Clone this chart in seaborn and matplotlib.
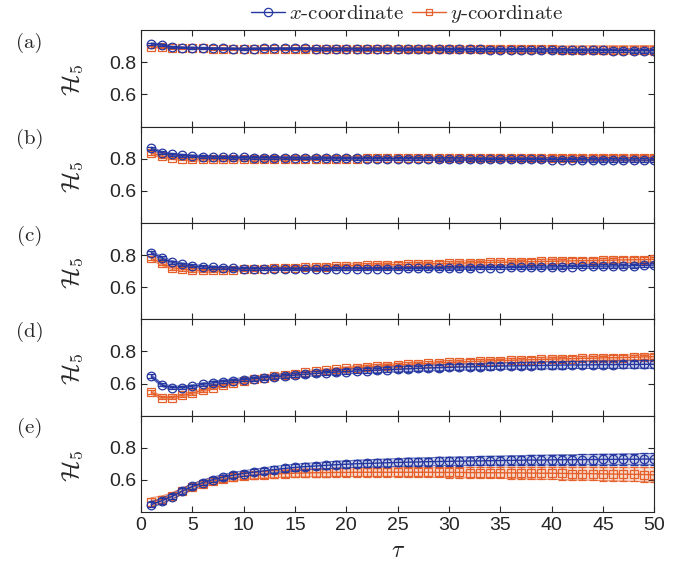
import numpy as np
import pandas as pd
import matplotlib
matplotlib.use("Agg")
import matplotlib.pyplot as plt
from matplotlib.lines import Line2D
import seaborn as sns

tau = list(range(1, 51))
panel_labels = ["(a)", "(b)", "(c)", "(d)", "(e)"]
series_names = ["$x$-coordinate", "$y$-coordinate"]

a_x = [0.915,0.910,0.895,0.892,0.890,0.888,0.887,0.886,0.885,0.884,
       0.885,0.886,0.886,0.886,0.886,0.886,0.885,0.884,0.884,0.884,
       0.883,0.883,0.883,0.883,0.883,0.882,0.882,0.882,0.882,0.881,
       0.881,0.880,0.880,0.879,0.879,0.878,0.878,0.877,0.877,0.876,
       0.876,0.875,0.875,0.874,0.874,0.873,0.873,0.872,0.872,0.872]
a_y = [0.897,0.893,0.890,0.888,0.887,0.886,0.885,0.884,0.883,0.883,
       0.883,0.883,0.883,0.883,0.883,0.883,0.882,0.882,0.882,0.882,
       0.882,0.882,0.882,0.882,0.882,0.882,0.882,0.882,0.882,0.882,
       0.881,0.881,0.881,0.881,0.881,0.880,0.880,0.880,0.880,0.880,
       0.879,0.879,0.879,0.879,0.878,0.878,0.878,0.877,0.877,0.876]
a_xe = [0.006,0.006,0.005,0.005,0.005,0.005,0.005,0.005,0.005,0.005,
        0.005,0.005,0.005,0.005,0.006,0.006,0.006,0.006,0.006,0.006,
        0.006,0.006,0.007,0.007,0.007,0.007,0.007,0.007,0.008,0.008,
        0.008,0.008,0.008,0.009,0.009,0.009,0.009,0.009,0.010,0.010,
        0.010,0.010,0.010,0.011,0.011,0.011,0.011,0.012,0.012,0.012]
a_ye = [0.006,0.006,0.006,0.006,0.006,0.006,0.006,0.006,0.007,0.007,
        0.007,0.008,0.008,0.009,0.009,0.010,0.010,0.011,0.011,0.012,
        0.012,0.013,0.013,0.014,0.014,0.015,0.015,0.016,0.016,0.017,
        0.017,0.018,0.018,0.019,0.019,0.020,0.020,0.021,0.021,0.022,
        0.022,0.023,0.023,0.024,0.024,0.025,0.025,0.026,0.027,0.028]

b_x = [0.865,0.838,0.826,0.820,0.816,0.813,0.811,0.810,0.809,0.808,
       0.807,0.806,0.806,0.805,0.805,0.804,0.804,0.803,0.803,0.802,
       0.802,0.801,0.801,0.800,0.800,0.800,0.799,0.799,0.798,0.798,
       0.798,0.797,0.797,0.796,0.796,0.796,0.795,0.795,0.795,0.794,
       0.794,0.794,0.793,0.793,0.793,0.792,0.792,0.792,0.791,0.791]
b_y = [0.835,0.815,0.806,0.801,0.798,0.797,0.796,0.796,0.797,0.797,
       0.798,0.798,0.799,0.799,0.800,0.800,0.800,0.801,0.801,0.801,
       0.801,0.802,0.802,0.802,0.802,0.802,0.803,0.803,0.803,0.803,
       0.803,0.803,0.804,0.804,0.804,0.804,0.804,0.805,0.805,0.805,
       0.805,0.805,0.806,0.806,0.806,0.806,0.806,0.807,0.807,0.807]
b_xe = [0.009,0.008,0.008,0.008,0.008,0.008,0.008,0.008,0.008,0.008,
        0.008,0.008,0.008,0.008,0.008,0.008,0.009,0.009,0.009,0.009,
        0.009,0.009,0.009,0.009,0.009,0.010,0.010,0.010,0.010,0.010,
        0.010,0.010,0.010,0.010,0.011,0.011,0.011,0.011,0.011,0.011,
        0.011,0.011,0.012,0.012,0.012,0.012,0.012,0.012,0.013,0.013]
b_ye = [0.012,0.011,0.011,0.011,0.011,0.011,0.011,0.011,0.011,0.011,
        0.011,0.011,0.011,0.011,0.011,0.011,0.011,0.012,0.012,0.012,
        0.012,0.012,0.012,0.012,0.012,0.012,0.013,0.013,0.013,0.013,
        0.013,0.013,0.013,0.014,0.014,0.014,0.014,0.014,0.014,0.015,
        0.015,0.015,0.015,0.015,0.016,0.016,0.016,0.016,0.016,0.017]

c_x = [0.815,0.782,0.756,0.742,0.733,0.727,0.723,0.720,0.718,0.716,
       0.715,0.714,0.713,0.713,0.713,0.713,0.713,0.713,0.714,0.714,
       0.714,0.715,0.715,0.716,0.716,0.717,0.717,0.718,0.718,0.719,
       0.720,0.720,0.721,0.722,0.722,0.723,0.724,0.725,0.725,0.726,
       0.727,0.728,0.729,0.730,0.731,0.732,0.733,0.734,0.736,0.738]
c_y = [0.782,0.748,0.722,0.712,0.706,0.705,0.706,0.708,0.710,0.712,
       0.714,0.716,0.718,0.720,0.722,0.724,0.726,0.728,0.730,0.732,
       0.734,0.736,0.738,0.739,0.741,0.742,0.744,0.745,0.747,0.748,
       0.750,0.751,0.752,0.754,0.755,0.756,0.758,0.759,0.760,0.761,
       0.763,0.764,0.765,0.766,0.767,0.768,0.770,0.771,0.772,0.774]
c_xe = [0.010,0.010,0.010,0.010,0.009,0.009,0.009,0.009,0.009,0.009,
        0.009,0.009,0.009,0.009,0.009,0.009,0.009,0.009,0.009,0.009,
        0.009,0.009,0.009,0.009,0.010,0.010,0.010,0.010,0.010,0.010,
        0.010,0.010,0.010,0.010,0.011,0.011,0.011,0.011,0.011,0.011,
        0.011,0.011,0.012,0.012,0.012,0.012,0.012,0.012,0.013,0.013]
c_ye = [0.013,0.012,0.012,0.012,0.011,0.011,0.011,0.011,0.011,0.011,
        0.011,0.011,0.011,0.011,0.012,0.012,0.012,0.012,0.012,0.012,
        0.012,0.012,0.012,0.013,0.013,0.013,0.013,0.013,0.013,0.013,
        0.013,0.014,0.014,0.014,0.014,0.014,0.014,0.014,0.015,0.015,
        0.015,0.015,0.015,0.015,0.015,0.016,0.016,0.016,0.016,0.016]

d_x = [0.646,0.592,0.575,0.575,0.583,0.595,0.605,0.612,0.619,0.625,
       0.631,0.637,0.643,0.648,0.653,0.658,0.663,0.667,0.671,0.675,
       0.678,0.681,0.684,0.687,0.690,0.692,0.695,0.697,0.699,0.701,
       0.703,0.704,0.706,0.707,0.709,0.710,0.711,0.712,0.713,0.714,
       0.715,0.716,0.716,0.717,0.718,0.718,0.719,0.719,0.720,0.720]
d_y = [0.547,0.512,0.512,0.526,0.540,0.558,0.575,0.590,0.603,0.615,
       0.626,0.636,0.645,0.654,0.662,0.669,0.676,0.682,0.688,0.694,
       0.699,0.704,0.708,0.712,0.716,0.720,0.723,0.726,0.729,0.732,
       0.734,0.737,0.739,0.741,0.743,0.745,0.747,0.749,0.750,0.752,
       0.754,0.755,0.757,0.758,0.760,0.761,0.762,0.764,0.766,0.768]
d_xe = [0.011,0.010,0.010,0.010,0.010,0.010,0.011,0.011,0.011,0.012,
        0.012,0.012,0.013,0.013,0.013,0.014,0.014,0.014,0.015,0.015,
        0.015,0.016,0.016,0.016,0.017,0.017,0.017,0.018,0.018,0.018,
        0.019,0.019,0.019,0.020,0.020,0.020,0.021,0.021,0.021,0.022,
        0.022,0.022,0.022,0.023,0.023,0.023,0.024,0.024,0.024,0.025]
d_ye = [0.011,0.010,0.010,0.010,0.010,0.010,0.010,0.010,0.010,0.010,
        0.010,0.010,0.010,0.011,0.011,0.011,0.011,0.011,0.011,0.011,
        0.011,0.012,0.012,0.012,0.012,0.012,0.012,0.012,0.012,0.013,
        0.013,0.013,0.013,0.013,0.013,0.013,0.013,0.014,0.014,0.014,
        0.014,0.014,0.014,0.014,0.014,0.015,0.015,0.015,0.015,0.015]

e_x = [0.447,0.470,0.497,0.530,0.560,0.583,0.602,0.617,0.630,0.640,
       0.649,0.657,0.665,0.672,0.678,0.683,0.687,0.691,0.695,0.698,
       0.701,0.703,0.705,0.707,0.709,0.711,0.712,0.714,0.715,0.716,
       0.717,0.718,0.719,0.720,0.721,0.722,0.723,0.724,0.724,0.725,
       0.726,0.726,0.727,0.727,0.728,0.728,0.729,0.729,0.730,0.730]
e_y = [0.465,0.478,0.500,0.530,0.556,0.576,0.593,0.605,0.616,0.624,
       0.630,0.634,0.638,0.640,0.642,0.644,0.645,0.646,0.647,0.647,
       0.648,0.648,0.648,0.648,0.648,0.648,0.648,0.648,0.647,0.647,
       0.647,0.646,0.646,0.645,0.645,0.644,0.644,0.643,0.642,0.642,
       0.641,0.640,0.640,0.639,0.638,0.637,0.636,0.635,0.634,0.632]
e_xe = [0.018,0.017,0.017,0.017,0.017,0.017,0.017,0.017,0.018,0.018,
        0.018,0.019,0.019,0.020,0.020,0.020,0.021,0.021,0.022,0.022,
        0.022,0.023,0.023,0.024,0.024,0.025,0.025,0.025,0.026,0.026,
        0.027,0.027,0.028,0.028,0.028,0.029,0.029,0.030,0.030,0.031,
        0.031,0.031,0.032,0.032,0.033,0.033,0.034,0.034,0.035,0.035]
e_ye = [0.025,0.022,0.020,0.020,0.020,0.020,0.020,0.020,0.021,0.021,
        0.022,0.022,0.023,0.023,0.024,0.024,0.025,0.025,0.026,0.026,
        0.027,0.027,0.028,0.028,0.029,0.030,0.030,0.031,0.031,0.032,
        0.033,0.033,0.034,0.034,0.035,0.036,0.036,0.037,0.038,0.038,
        0.039,0.040,0.040,0.041,0.042,0.042,0.043,0.044,0.045,0.046]

panels = [
    (a_x, a_xe, a_y, a_ye),
    (b_x, b_xe, b_y, b_ye),
    (c_x, c_xe, c_y, c_ye),
    (d_x, d_xe, d_y, d_ye),
    (e_x, e_xe, e_y, e_ye),
]

BLUE = "#2537A0"
ORANGE = "#E5602B"
AXC = "#262626"

sns.set_theme(style="ticks")
plt.rcParams.update({
    "font.family": ["Liberation Sans", "DejaVu Sans"],
    "mathtext.fontset": "cm",
    "axes.edgecolor": AXC,
    "axes.linewidth": 0.8,
    "xtick.color": AXC,
    "ytick.color": AXC,
    "xtick.direction": "in",
    "ytick.direction": "in",
    "xtick.major.size": 4.5,
    "ytick.major.size": 4.5,
    "xtick.major.width": 0.8,
    "ytick.major.width": 0.8,
    "xtick.labelsize": 14,
    "ytick.labelsize": 14,
})

fig, axes = plt.subplots(5, 1, figsize=(6.88, 5.69), dpi=100, sharex=True)
fig.subplots_adjust(left=0.205, right=0.951, bottom=0.1, top=0.947, hspace=0)

tau_arr = np.array(tau)
for i, ax in enumerate(axes):
    xv, xe, yv, ye = panels[i]
    order = [(yv, ye, ORANGE, "s", 5.2), (xv, xe, BLUE, "o", 6.2)]
    for vals, err, col, mk, ms in order:
        v = np.array(vals)
        e = np.array(err)
        ax.fill_between(tau_arr, v - e, v + e, color=col, alpha=0.22, lw=0)
        ax.plot(tau_arr, v + e, color=col, lw=0.7, alpha=0.7)
        ax.plot(tau_arr, v - e, color=col, lw=0.7, alpha=0.7)
        ax.errorbar(tau_arr, v, yerr=e, fmt="none", ecolor=col, elinewidth=0.9,
                    capsize=3, capthick=0.9)
        df = pd.DataFrame({"tau": tau, "H": vals})
        sns.lineplot(data=df, x="tau", y="H", ax=ax, color=col, lw=1.0,
                     marker=mk, markersize=ms, mfc="none", mec=col, mew=0.9,
                     legend=False)
    ax.set_xlim(0, 50)
    ax.set_ylim(0.4, 1.0)
    ax.set_yticks([0.6, 0.8])
    ax.set_yticklabels(["0.6", "0.8"])
    ax.set_xticks(range(0, 51, 5))
    ax.tick_params(top=True, right=True, which="both")
    ax.set_ylabel(r"$\mathcal{H}_5$", fontsize=18)
    ax.yaxis.set_label_coords(-0.109, 0.48)
    ax.set_xlabel("")
    for s in ax.spines.values():
        s.set_visible(True)
    ax.text(-0.217, 0.868, panel_labels[i], transform=ax.transAxes,
            fontsize=15, family="cmr10", ha="center", va="center")

axes[-1].set_xlabel(r"$\tau$", fontsize=17, labelpad=4)
for ax in axes[:-1]:
    ax.tick_params(labelbottom=False)

handles = [
    Line2D([], [], color=BLUE, marker="o", markersize=6, mfc="none", mew=0.9, lw=1.0),
    Line2D([], [], color=ORANGE, marker="s", markersize=5, mfc="none", mew=0.9, lw=1.0),
]
fig.legend(handles, series_names, loc="center", bbox_to_anchor=(0.592, 0.975),
           ncol=2, frameon=False, handlelength=1.6, handletextpad=0.2,
           columnspacing=0.4, prop={"family": "cmr10", "size": 15})

fig.savefig("out.png", dpi=100)
